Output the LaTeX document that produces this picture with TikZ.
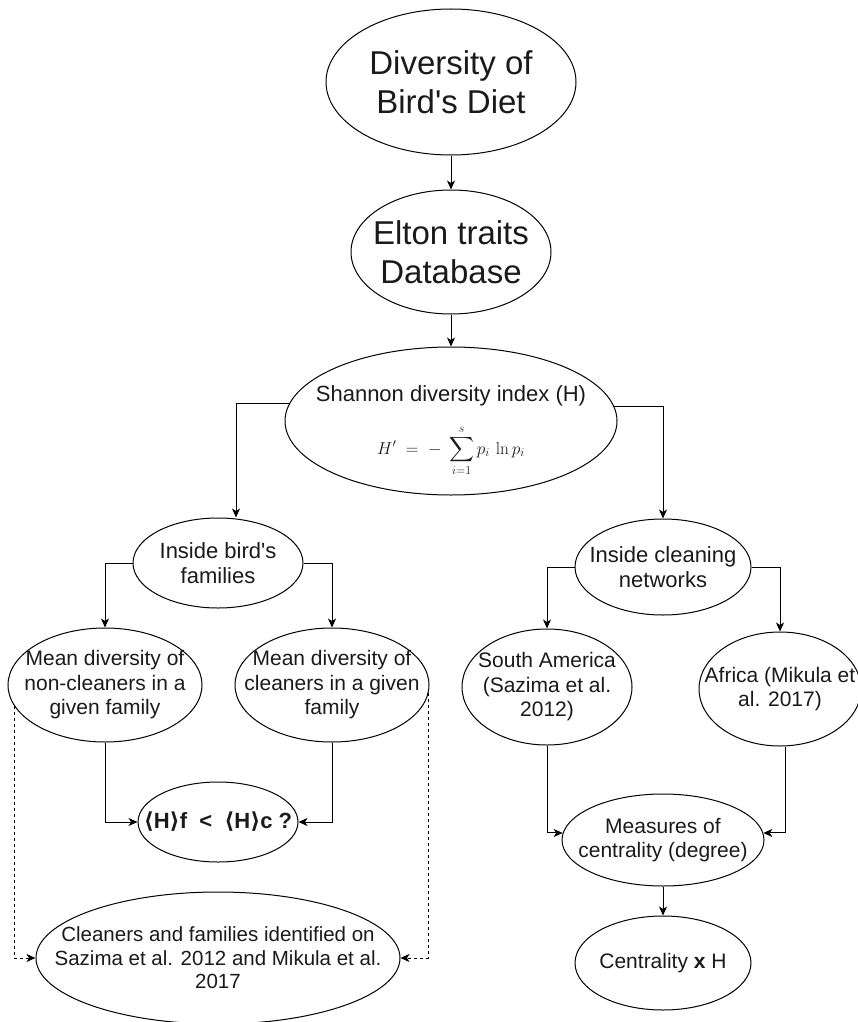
\documentclass[tikz,border=0pt]{standalone}
\usepackage{exscale}
\usepackage[no-math]{fontspec}
\setmainfont{Liberation Sans}
\newfontfamily\dejavu{DejaVu Sans}
\usetikzlibrary{shapes.geometric,arrows.meta,calc}
\definecolor{txt}{HTML}{1A1A1A}
\newcommand\myfbig{\fontsize{33}{38.5}\selectfont}
\newcommand\myfmid{\fontsize{22}{25}\selectfont}
\newcommand\myfnorm{\fontsize{21}{24.5}\selectfont}
\newcommand\myfsmall{\fontsize{20.5}{23.5}\selectfont}
\newcommand\myq{\textquotesingle}
% name, x, y, width, height, font, text
\newcommand\myellip[7]{%
  \node[ell, minimum width=#4pt, minimum height=#5pt] (#1) at (#2,#3) {};
  \node[plain, align=center, font=#6] (#1-t) at (#2,#3) {#7};}
\begin{document}
\begin{tikzpicture}[x=1pt,y=-1pt,
  ell/.style={draw, ellipse, inner sep=0pt, line width=1pt},
  plain/.style={inner sep=0pt, text=txt},
  arr/.style={-{Stealth[length=9pt,width=8pt,inset=2.5pt]}, line width=1pt},
  dsh/.style={arr, dash pattern=on 3pt off 3pt}]
\useasboundingbox (0,0) rectangle (858,1022);

% nodes
\myellip{top}{451}{82}{250}{146}{\myfbig}{Diversity of\\Bird\myq s Diet}
\myellip{elton}{451}{252}{200}{124}{\myfbig}{Elton traits\\Database}
\node[ell, minimum width=332pt, minimum height=148pt] (sh) at (451,421) {};
\node[plain, font=\myfmid, anchor=base] (shT) at (451,401) {Shannon diversity index (H)};
\node[plain, anchor=base] (shF) at (451,454) {\fontsize{17.28}{20}\selectfont $H' \;=\; -\;\displaystyle\sum_{i=1}^{s} p_i \,\ln p_i$};

\myellip{ibf}{218}{563}{170}{90}{\myfmid}{Inside bird\myq s\\families}
\myellip{icn}{663}{567}{176}{96}{\myfmid}{Inside cleaning\\networks}

\myellip{nc}{105}{685}{194}{114}{\myfnorm}{Mean diversity of\\non-cleaners in a\\given family}
\myellip{cl}{332}{685}{194}{114}{\myfnorm}{Mean diversity of\\cleaners in a given\\family}
\myellip{sa}{547}{687}{170}{116}{\myfnorm}{South America\\(Sazima et al.\\2012)}
\myellip{af}{780}{689}{162}{114}{\myfnorm}{Africa (Mikula et\\al. 2017)}

\myellip{hq}{218}{822}{160}{80}{\myfmid\bfseries}{{\dejavu\bfseries ⟨}H{\dejavu\bfseries ⟩}f\ \ <\ \ {\dejavu\bfseries ⟨}H{\dejavu\bfseries ⟩}c ?}
\myellip{cf}{218}{958}{364}{132}{\myfsmall}{Cleaners and families identified on\\Sazima et al. 2012 and Mikula et al.\\2017}

\myellip{mc}{663}{840}{202}{92}{\myfnorm}{Measures of\\centrality (degree)}
\myellip{cx}{663}{963}{176}{94}{\myfnorm}{Centrality \textbf{x} H}

% connectors
\draw[arr] (top.south) -- (elton.north);
\draw[arr] (elton.south) -- (sh.north);
\draw[arr] (sh.174.4) -| ($(ibf.north)+(18,0)$);
\draw[arr] (sh.5.6) -| (icn.north);
\draw[arr] (ibf.west) -| (nc.north);
\draw[arr] (ibf.east) -| (cl.north);
\draw[arr] (nc.south) |- (hq.west);
\draw[arr] (cl.south) |- (hq.east);
\draw[dsh] (nc.193) |- (cf.west);
\draw[dsh] (cl.355) |- (cf.east);
\draw[arr] (icn.west) -| (sa.north);
\draw[arr] (icn.east) -| (af.north);
\draw[arr] (sa.south) |- (mc.176);
\draw[arr] ($(af.south)+(5,0)$) |- (mc.4);
\draw[arr] (mc.south) -- (cx.north);
\end{tikzpicture}
\end{document}
